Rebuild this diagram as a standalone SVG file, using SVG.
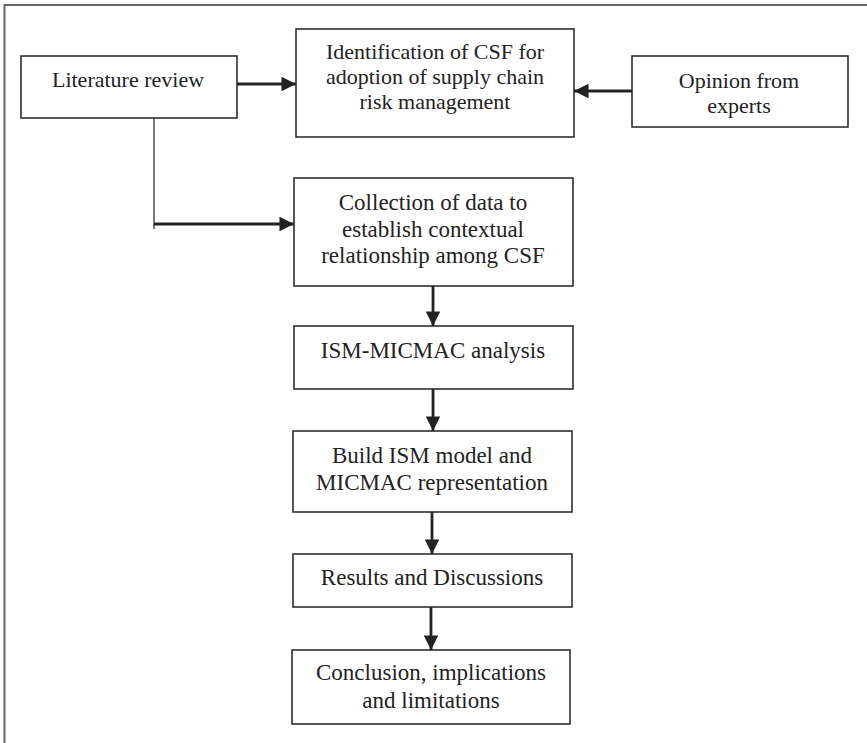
<svg xmlns="http://www.w3.org/2000/svg" width="867" height="743" viewBox="0 0 867 743">
<style>
.box{fill:#fff;stroke:#222;stroke-width:1.5}
.t{font-family:"Liberation Serif","Times New Roman",serif;font-size:22px;fill:#222;text-anchor:middle}
.t2{font-family:"Liberation Serif","Times New Roman",serif;font-size:23px;fill:#222;text-anchor:middle}
.c{stroke:#222;stroke-width:2.8;fill:none}
</style>
<defs>
<marker id="ah" viewBox="0 0 10 10" refX="10" refY="5" markerWidth="5.4" markerHeight="5.2" markerUnits="strokeWidth" orient="auto">
<path d="M0,0 L10,5 L0,10 Z" fill="#222"/>
</marker>
</defs>
<path d="M4.5,743 V5 H867" fill="none" stroke="#666" stroke-width="2"/>
<g id="connectors">
<line class="c" x1="237" y1="84" x2="296" y2="84" marker-end="url(#ah)"/>
<line class="c" x1="632" y1="91" x2="574" y2="91" marker-end="url(#ah)"/>
<line x1="154" y1="118" x2="154" y2="229" stroke="#222" stroke-width="1.2"/>
<line class="c" x1="154" y1="224" x2="294" y2="224" marker-end="url(#ah)"/>
<line class="c" x1="433" y1="286" x2="433" y2="326" marker-end="url(#ah)"/>
<line class="c" x1="433" y1="389" x2="433" y2="431" marker-end="url(#ah)"/>
<line class="c" x1="432" y1="512" x2="432" y2="554" marker-end="url(#ah)"/>
<line class="c" x1="431" y1="607" x2="431" y2="650" marker-end="url(#ah)"/>
</g>
<g id="literature">
<rect class="box" x="21" y="56" width="216" height="62"/>
<text class="t" x="128" y="87">Literature review</text>
</g>
<g id="identification">
<rect class="box" x="296" y="29" width="278" height="108"/>
<text class="t" x="435" y="59">Identification of CSF for</text>
<text class="t" x="435" y="84">adoption of supply chain</text>
<text class="t" x="435" y="109">risk management</text>
</g>
<g id="opinion">
<rect class="box" x="632" y="56" width="216" height="71"/>
<text class="t" x="739" y="88">Opinion from</text>
<text class="t" x="739" y="113">experts</text>
</g>
<g id="collection">
<rect class="box" x="294" y="178" width="279" height="108"/>
<text class="t2" x="433" y="210">Collection of data to</text>
<text class="t2" x="433" y="237">establish contextual</text>
<text class="t2" x="433" y="263">relationship among CSF</text>
</g>
<g id="ism">
<rect class="box" x="294" y="326" width="279" height="63"/>
<text class="t2" x="433" y="358">ISM-MICMAC analysis</text>
</g>
<g id="build">
<rect class="box" x="293" y="431" width="279" height="81"/>
<text class="t2" x="432" y="463">Build ISM model and</text>
<text class="t2" x="432" y="490">MICMAC representation</text>
</g>
<g id="results">
<rect class="box" x="293" y="554" width="279" height="53"/>
<text class="t2" x="432" y="585">Results and Discussions</text>
</g>
<g id="conclusion">
<rect class="box" x="292" y="650" width="278" height="74"/>
<text class="t2" x="431" y="680">Conclusion, implications</text>
<text class="t2" x="431" y="708">and limitations</text>
</g>
</svg>
